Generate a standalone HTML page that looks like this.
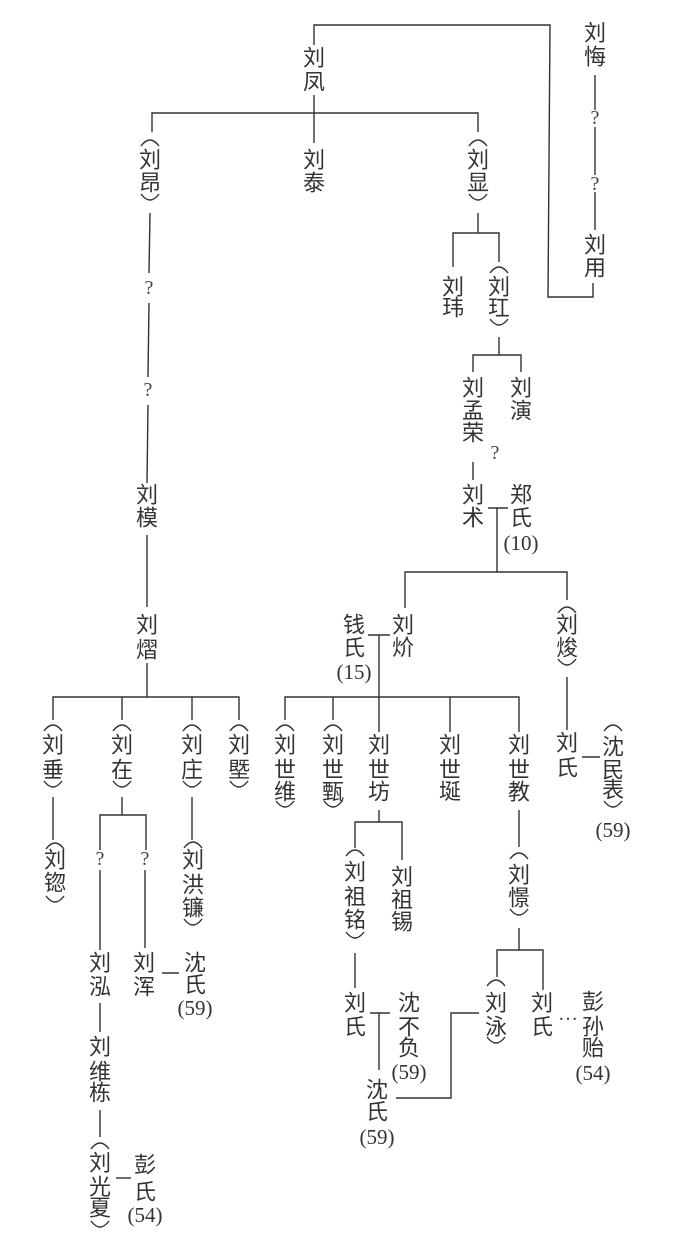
<!DOCTYPE html>
<html><head><meta charset="utf-8"><style>
html,body{margin:0;padding:0;background:#fff}
svg{display:block}
.c{font-family:"Liberation Sans","Noto Sans CJK SC",sans-serif;font-size:22px;fill:#333;text-anchor:middle;dominant-baseline:central}
.n{font-family:"Liberation Serif",serif;font-size:21px;fill:#333;text-anchor:middle;dominant-baseline:central}
.q{font-family:"Liberation Serif",serif;font-size:20px;fill:#444;text-anchor:middle;dominant-baseline:central}
path.p{fill:none;stroke:#333;stroke-width:1.4}
.l{stroke:#333;stroke-width:1.4;fill:none}
</style></head><body>
<svg width="683" height="1256" viewBox="0 0 683 1256" xmlns="http://www.w3.org/2000/svg">
<g class="l">
<polyline points="314,45 314,25 550,25 548,297 593,297 593,283"/>
<line x1="595" y1="75" x2="595" y2="110"/><line x1="595" y1="127" x2="595" y2="175"/><line x1="595" y1="192" x2="595" y2="230"/>
<line x1="314" y1="95" x2="314" y2="143"/>
<polyline points="152,132 152,113 478,113 478,132"/>
<line x1="150" y1="213" x2="149" y2="273"/><line x1="149" y1="303" x2="148" y2="377"/><line x1="148" y1="405" x2="147" y2="483"/>
<line x1="147" y1="535" x2="147" y2="607"/><line x1="147" y1="663" x2="147" y2="697"/>
<polyline points="53,720 53,697 239,697 239,720"/><line x1="122" y1="697" x2="122" y2="720"/><line x1="192" y1="697" x2="192" y2="720"/>
<line x1="478" y1="213" x2="478" y2="233"/><polyline points="453,267 453,233 499,233 499,262"/>
<line x1="499" y1="337" x2="499" y2="355"/><polyline points="473,372 473,355 521,355 521,372"/>
<line x1="473" y1="462" x2="473" y2="480"/>
<line x1="488" y1="508" x2="508" y2="508"/><line x1="497" y1="508" x2="497" y2="572"/>
<polyline points="405,608 405,572 567,572 567,600"/>
<line x1="368" y1="635" x2="390" y2="635"/><line x1="379" y1="635" x2="379" y2="697"/>
<polyline points="285,720 285,697 519,697 519,732"/>
<line x1="333" y1="697" x2="333" y2="720"/><line x1="379" y1="697" x2="379" y2="732"/><line x1="450" y1="697" x2="450" y2="732"/>
<line x1="567" y1="677" x2="567" y2="730"/><line x1="582" y1="757" x2="600" y2="757"/>
<line x1="53" y1="797" x2="53" y2="840"/>
<line x1="122" y1="797" x2="122" y2="815"/><polyline points="100,850 100,815 146,815 146,850"/>
<line x1="192" y1="797" x2="192" y2="840"/>
<line x1="100" y1="870" x2="100" y2="950"/><line x1="145" y1="870" x2="145" y2="948"/>
<line x1="162" y1="973" x2="179" y2="973"/>
<line x1="100" y1="1003" x2="100" y2="1032"/><line x1="100" y1="1110" x2="100" y2="1137"/>
<line x1="116" y1="1178" x2="131" y2="1178"/>
<line x1="379" y1="810" x2="379" y2="822"/><polyline points="355,848 355,822 402,822 402,860"/>
<line x1="355" y1="953" x2="355" y2="988"/>
<line x1="370" y1="1013" x2="390" y2="1013"/><line x1="379" y1="1013" x2="379" y2="1070"/>
<polyline points="396,1098 451,1098 451,1013 479,1013"/>
<line x1="519" y1="810" x2="519" y2="847"/><line x1="519" y1="928" x2="519" y2="950"/>
<polyline points="497,977 497,950 543,950 543,990"/>
</g>
<g class="c">
<text x="314" y="58">刘</text><text x="314" y="82">凤</text>
<text x="595" y="33">刘</text><text x="595" y="57">悔</text>
<text x="595" y="245">刘</text><text x="595" y="268">用</text>
<text x="150" y="160">刘</text><text x="150" y="183">昂</text>
<text x="314" y="160">刘</text><text x="314" y="183">泰</text>
<text x="478" y="160">刘</text><text x="478" y="183">显</text>
<text x="453" y="287">刘</text><text x="453" y="308">玮</text>
<text x="499" y="287">刘</text><text x="499" y="308">玒</text>
<text x="473" y="388">刘</text><text x="473" y="411">孟</text><text x="473" y="433">荣</text>
<text x="521" y="388">刘</text><text x="521" y="411">演</text>
<text x="147" y="495">刘</text><text x="147" y="518">模</text>
<text x="473" y="495">刘</text><text x="473" y="518">术</text>
<text x="521" y="495">郑</text><text x="521" y="518">氏</text>
<text x="147" y="625">刘</text><text x="147" y="650">熠</text>
<text x="403" y="625">刘</text><text x="403" y="648">炌</text>
<text x="354" y="625">钱</text><text x="354" y="648">氏</text>
<text x="567" y="625">刘</text><text x="567" y="648">焌</text>
<text x="53" y="745">刘</text><text x="53" y="770">垂</text>
<text x="122" y="745">刘</text><text x="122" y="770">在</text>
<text x="192" y="745">刘</text><text x="192" y="770">庄</text>
<text x="239" y="745">刘</text><text x="239" y="770">塈</text>
<text x="285" y="745">刘</text><text x="285" y="770">世</text><text x="285" y="792">维</text>
<text x="333" y="745">刘</text><text x="333" y="770">世</text><text x="333" y="792">甄</text>
<text x="379" y="745">刘</text><text x="379" y="770">世</text><text x="379" y="792">坊</text>
<text x="450" y="745">刘</text><text x="450" y="770">世</text><text x="450" y="792">埏</text>
<text x="519" y="745">刘</text><text x="519" y="770">世</text><text x="519" y="792">教</text>
<text x="567" y="743">刘</text><text x="567" y="768">氏</text>
<text x="613" y="747">沈</text><text x="613" y="770">民</text><text x="613" y="790">表</text>
<text x="55" y="860">刘</text><text x="55" y="883">锪</text>
<text x="193" y="860">刘</text><text x="193" y="885">洪</text><text x="193" y="908">镰</text>
<text x="100" y="963">刘</text><text x="100" y="987">泓</text>
<text x="144" y="963">刘</text><text x="144" y="987">浑</text>
<text x="195" y="963">沈</text><text x="195" y="985">氏</text>
<text x="100" y="1047">刘</text><text x="100" y="1072">维</text><text x="100" y="1093">栋</text>
<text x="100" y="1163">刘</text><text x="100" y="1187">光</text><text x="100" y="1208">夏</text>
<text x="145" y="1165">彭</text><text x="145" y="1192">氏</text>
<text x="355" y="872">刘</text><text x="355" y="897">祖</text><text x="355" y="920">铭</text>
<text x="402" y="877">刘</text><text x="402" y="900">祖</text><text x="402" y="922">锡</text>
<text x="519" y="875">刘</text><text x="519" y="898">憬</text>
<text x="355" y="1003">刘</text><text x="355" y="1027">氏</text>
<text x="409" y="1003">沈</text><text x="409" y="1027">不</text><text x="409" y="1048">负</text>
<text x="377" y="1090">沈</text><text x="377" y="1112">氏</text>
<text x="496" y="1003">刘</text><text x="496" y="1027">泳</text>
<text x="542" y="1003">刘</text><text x="542" y="1027">氏</text>
<text x="593" y="1002">彭</text><text x="593" y="1027">孙</text><text x="593" y="1048">贻</text>
</g>
<g class="n">
<text x="521" y="543">(10)</text><text x="354" y="672">(15)</text><text x="613" y="830">(59)</text>
<text x="195" y="1008">(59)</text><text x="145" y="1215">(54)</text>
<text x="409" y="1072">(59)</text><text x="377" y="1137">(59)</text><text x="593" y="1073">(54)</text>
</g>
<g class="q">
<text x="595" y="118">?</text><text x="595" y="184">?</text>
<text x="149" y="288">?</text><text x="148" y="390">?</text>
<text x="495" y="453">?</text>
<text x="100" y="859">?</text><text x="145" y="859">?</text>
<text x="568" y="1014">…</text>
</g>
<g>
<path class="p" d="M141,146 Q150,134 159,146 M141,194 Q150,206 159,194"/>
<path class="p" d="M469,146 Q478,134 487,146 M469,194 Q478,206 487,194"/>
<path class="p" d="M490,273 Q499,261 508,273 M490,319 Q499,331 508,319"/>
<path class="p" d="M558,613 Q567,601 576,613 M558,659 Q567,671 576,659"/>
<path class="p" d="M44,731 Q53,719 62,731 M44,781 Q53,793 62,781"/>
<path class="p" d="M113,731 Q122,719 131,731 M113,781 Q122,793 131,781"/>
<path class="p" d="M183,731 Q192,719 201,731 M183,781 Q192,793 201,781"/>
<path class="p" d="M230,731 Q239,719 248,731 M230,781 Q239,793 248,781"/>
<path class="p" d="M276,731 Q285,719 294,731 M276,801 Q285,813 294,801"/>
<path class="p" d="M324,731 Q333,719 342,731 M324,801 Q333,813 342,801"/>
<path class="p" d="M604,731 Q613,719 622,731 M604,801 Q613,813 622,801"/>
<path class="p" d="M46,849 Q55,837 64,849 M46,896 Q55,908 64,896"/>
<path class="p" d="M184,848 Q193,836 202,848 M184,919 Q193,931 202,919"/>
<path class="p" d="M346,856 Q355,844 364,856 M346,932 Q355,944 364,932"/>
<path class="p" d="M510,859 Q519,847 528,859 M510,909 Q519,921 528,909"/>
<path class="p" d="M487,986 Q496,974 505,986 M487,1037 Q496,1049 505,1037"/>
<path class="p" d="M91,1149 Q100,1137 109,1149 M91,1221 Q100,1233 109,1221"/>
</g>
</svg>
</body></html>
